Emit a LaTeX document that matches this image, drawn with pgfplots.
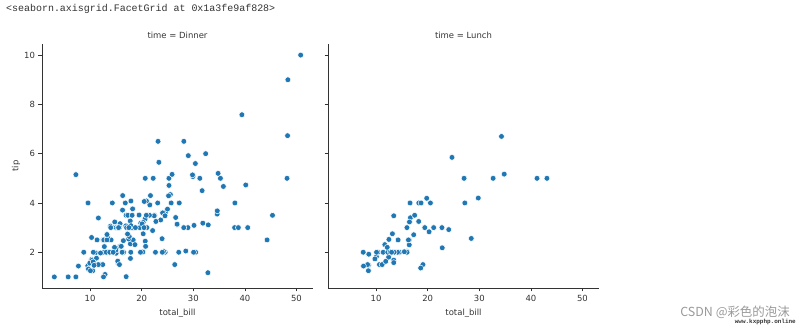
\documentclass[border=0pt]{standalone}
\usepackage{fontspec}
\setmainfont{DejaVu Sans}
\newfontfamily\monofont{Liberation Mono}
\newfontfamily\cjk{Noto Sans CJK SC}
\usepackage{pgfplots}
\pgfplotsset{compat=1.18}
\usepackage{pgfplotstable}
\definecolor{sbblue}{HTML}{1F77B4}
\definecolor{axgray}{HTML}{333333}

\pgfplotstableread{
x y
16.99 1.01
10.34 1.66
21.01 3.5
23.68 3.31
24.59 3.61
25.29 4.71
8.77 2.0
26.88 3.12
15.04 1.96
14.78 3.23
10.27 1.71
35.26 5.0
15.42 1.57
18.43 3.0
14.83 3.02
21.58 3.92
10.33 1.67
16.29 3.71
16.97 3.5
20.65 3.35
17.92 4.08
20.29 2.75
15.77 2.23
39.42 7.58
19.82 3.18
17.81 2.34
13.37 2.0
12.69 2.0
21.7 4.3
19.65 3.0
9.55 1.45
18.35 2.5
15.06 3.0
20.69 2.45
17.78 3.27
24.06 3.6
16.31 2.0
16.93 3.07
18.69 2.31
31.27 5.0
16.04 2.24
17.46 2.54
13.94 3.06
9.68 1.32
30.4 5.6
18.29 3.0
22.23 5.0
32.4 6.0
28.55 2.05
18.04 3.0
12.54 2.5
10.29 2.6
34.81 5.2
9.94 1.56
25.56 4.34
19.49 3.51
38.01 3.0
26.41 1.5
11.24 1.76
48.27 6.73
20.29 3.21
13.81 2.0
11.02 1.98
18.29 3.76
17.59 2.64
20.08 3.15
16.45 2.47
3.07 1.0
20.23 2.01
15.01 2.09
12.02 1.97
17.07 3.0
26.86 3.14
25.28 5.0
14.73 2.2
10.51 1.25
17.92 3.08
28.97 3.0
22.49 3.5
5.75 1.0
16.32 4.3
22.75 3.25
40.17 4.73
27.28 4.0
12.03 1.5
21.01 3.0
12.46 1.5
11.35 2.5
15.38 3.0
44.3 2.5
22.42 3.48
20.92 4.08
15.36 1.64
20.49 4.06
25.21 4.29
18.24 3.76
14.31 4.0
14.0 3.0
7.25 1.0
38.07 4.0
23.95 2.55
25.71 4.0
17.31 3.5
29.93 5.07
14.07 2.5
13.13 2.0
17.26 2.74
24.55 2.0
19.77 2.0
29.85 5.14
48.17 5.0
25.0 3.75
13.39 2.61
16.49 2.0
21.5 3.5
12.66 2.5
16.21 2.0
13.81 2.0
17.51 3.0
24.52 3.48
20.76 2.24
31.71 4.5
10.59 1.61
10.63 2.0
50.81 10.0
15.81 3.16
7.25 5.15
31.85 3.18
16.82 4.0
32.9 3.11
17.89 2.0
14.48 2.0
9.6 4.0
34.63 3.55
34.65 3.68
23.33 5.65
45.35 3.5
23.17 6.5
40.55 3.0
20.69 5.0
20.9 3.5
30.46 2.0
18.15 3.5
23.1 4.0
15.69 1.5
26.59 3.41
38.73 3.0
24.27 2.03
12.76 2.23
30.06 2.0
25.89 5.16
48.33 9.0
13.27 2.5
28.17 6.5
12.9 1.1
28.15 3.0
11.59 1.5
7.74 1.44
30.14 3.09
20.45 3.0
13.28 2.72
22.12 2.88
24.01 2.0
15.69 3.0
11.61 3.39
10.77 1.47
15.53 3.0
10.07 1.25
12.6 1.0
32.83 1.17
35.83 4.67
29.03 5.92
27.18 2.0
22.67 2.0
17.82 1.75
18.78 3.0
}\dinner

\pgfplotstableread{
x y
27.2 4.0
22.76 3.0
17.29 2.71
19.44 3.0
16.66 3.4
10.07 1.83
32.68 5.0
15.98 2.03
34.83 5.17
13.03 2.0
18.28 4.0
24.71 5.85
21.16 3.0
10.65 1.5
12.43 1.8
24.08 2.92
11.69 2.31
13.42 1.68
14.26 2.5
15.95 2.0
12.48 2.52
29.8 4.2
8.52 1.48
14.52 2.0
11.38 2.0
22.82 2.18
19.08 1.5
20.27 2.83
11.17 1.5
12.26 2.0
18.26 3.25
8.51 1.25
10.33 2.0
14.15 2.0
16.0 2.0
13.16 2.75
17.47 3.5
34.3 6.7
41.19 5.0
27.05 5.0
16.43 2.3
8.35 1.5
18.64 1.36
11.87 1.63
9.78 1.73
7.51 2.0
19.81 4.19
28.44 2.56
15.48 2.02
16.58 4.0
7.56 1.44
10.34 2.0
43.11 5.0
13.0 2.0
13.51 2.0
18.71 4.0
12.74 2.01
13.0 2.0
16.4 2.5
20.53 4.0
16.47 3.23
12.16 2.2
13.42 3.48
8.58 1.92
15.98 3.0
13.42 1.58
16.27 2.5
10.09 2.0
}\lunch

\pgfplotsset{facet/.style={
  scale only axis, width=271bp, height=244bp,
  xmin=0.68, xmax=53.2, ymin=0.55, ymax=10.45,
  axis lines*=left,
  axis line style={axgray, line width=0.7bp},
  xtick={10,20,30,40,50}, ytick={2,4,6,8,10},
  tick align=outside,
  tick style={axgray, line width=0.7bp},
  major tick length=3.5bp,
  ticklabel style={font=\fontsize{8.5}{10}\selectfont, text=axgray},
  /pgf/number format/assume math mode=true,
  xlabel={total\_bill},
  xlabel style={font=\fontsize{8.5}{10}\selectfont, text=axgray,
    at={(axis description cs:0.5,-0.1025)}, anchor=center},
  anchor=north west,
  mark options={fill=sbblue, draw=white, line width=0.5bp},
}}

\begin{document}
\begin{tikzpicture}
\useasboundingbox (0,0) rectangle (800bp,-325bp);
\node[anchor=west, font=\monofont\fontsize{10}{12}\selectfont, text=axgray, inner sep=0pt]
  at (6bp,-9bp) {<seaborn.axisgrid.FacetGrid at 0x1a3fe9af828>};

\begin{axis}[facet, at={(42bp,-44bp)},
  ylabel={tip},
  ylabel style={font=\fontsize{8.5}{10}\selectfont, text=axgray,
    at={(axis description cs:-0.096,0.5)}, anchor=center}]
  \addplot[only marks, mark=*, mark size=2.9bp] table[x=x, y=y] {\dinner};
\end{axis}

\begin{axis}[facet, at={(328bp,-44bp)}, yticklabels={}]
  \addplot[only marks, mark=*, mark size=2.9bp] table[x=x, y=y] {\lunch};
\end{axis}

\node[font=\fontsize{8.5}{10}\selectfont, text=axgray, inner sep=0pt]
  at (177.5bp,-35bp) {time = Dinner};
\node[font=\fontsize{8.5}{10}\selectfont, text=axgray, inner sep=0pt]
  at (463.5bp,-35bp) {time = Lunch};

\node[anchor=east, font=\cjk\fontsize{12.5}{14}\selectfont, text=black!40, inner sep=0pt]
  at (790bp,-312bp) {CSDN @彩色的泡沫};
\node[anchor=east, font=\monofont\bfseries\fontsize{6}{7}\selectfont, text=black!80, inner sep=0pt]
  at (796bp,-321.5bp) {www.kxpphp.online};
\end{tikzpicture}
\end{document}
